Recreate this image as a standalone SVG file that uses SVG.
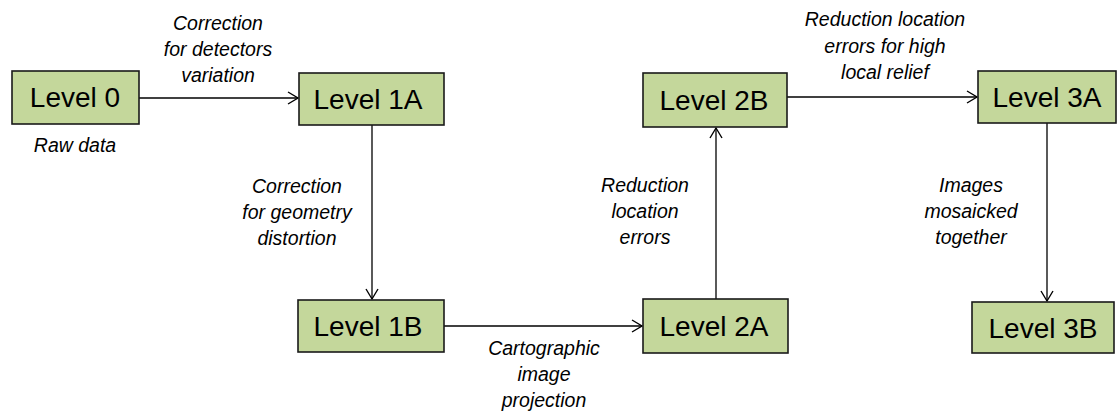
<svg xmlns="http://www.w3.org/2000/svg" width="1117" height="414" viewBox="0 0 1117 414">
<style>
.box{fill:#c4d79b;stroke:#1a1a1a;stroke-width:1.6}
.lvl{font-family:"Liberation Sans",Arial,sans-serif;font-size:28px;fill:#000;text-anchor:middle}
.lbl{font-family:"Liberation Sans",Arial,sans-serif;font-size:19.5px;font-style:italic;fill:#000;text-anchor:middle}
.edge{stroke:#000;stroke-width:1.3;fill:none;marker-end:url(#arr)}
</style>
<defs>
<marker id="arr" markerUnits="userSpaceOnUse" markerWidth="14" markerHeight="14" refX="11" refY="7" orient="auto">
<path d="M1,1 L11,7 L1,13" fill="none" stroke="#000" stroke-width="1.4"/>
</marker>
</defs>
<rect width="1117" height="414" fill="#fff"/>
<g id="connectors">
<line class="edge" x1="139" y1="98" x2="298" y2="98"/>
<line class="edge" x1="372" y1="125" x2="372" y2="299"/>
<line class="edge" x1="444" y1="326" x2="642" y2="326"/>
<line class="edge" x1="716" y1="299" x2="716" y2="128"/>
<line class="edge" x1="787" y1="97" x2="977" y2="97"/>
<line class="edge" x1="1047" y1="123" x2="1047" y2="301"/>
</g>
<g id="level0"><rect class="box" x="12" y="71" width="127" height="53"/><text class="lvl" x="75" y="107">Level 0</text></g>
<g id="level1a"><rect class="box" x="299" y="73" width="145" height="52"/><text class="lvl" x="368" y="109">Level 1A</text></g>
<g id="level1b"><rect class="box" x="298" y="300" width="146" height="52"/><text class="lvl" x="368" y="336">Level 1B</text></g>
<g id="level2a"><rect class="box" x="643" y="299" width="145" height="54"/><text class="lvl" x="714" y="336">Level 2A</text></g>
<g id="level2b"><rect class="box" x="643" y="73" width="144" height="54"/><text class="lvl" x="714" y="110">Level 2B</text></g>
<g id="level3a"><rect class="box" x="978" y="71" width="138" height="52"/><text class="lvl" x="1047" y="107">Level 3A</text></g>
<g id="level3b"><rect class="box" x="972" y="302" width="142" height="51"/><text class="lvl" x="1043" y="338">Level 3B</text></g>
<g id="labels">
<text class="lbl" x="75" y="152">Raw data</text>
<text class="lbl" x="218" y="30">Correction</text>
<text class="lbl" x="218" y="56">for detectors</text>
<text class="lbl" x="218" y="82">variation</text>
<text class="lbl" x="297" y="193">Correction</text>
<text class="lbl" x="297" y="219">for geometry</text>
<text class="lbl" x="297" y="245">distortion</text>
<text class="lbl" x="544" y="355">Cartographic</text>
<text class="lbl" x="544" y="381">image</text>
<text class="lbl" x="544" y="407">projection</text>
<text class="lbl" x="645" y="192">Reduction</text>
<text class="lbl" x="645" y="218">location</text>
<text class="lbl" x="645" y="244">errors</text>
<text class="lbl" x="885" y="26">Reduction location</text>
<text class="lbl" x="885" y="53">errors for high</text>
<text class="lbl" x="885" y="79">local relief</text>
<text class="lbl" x="971" y="192">Images</text>
<text class="lbl" x="971" y="218">mosaicked</text>
<text class="lbl" x="971" y="244">together</text>
</g>
</svg>
